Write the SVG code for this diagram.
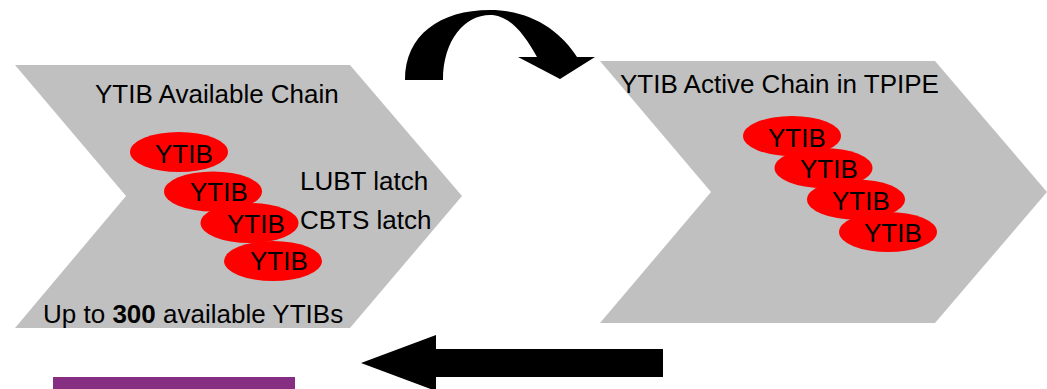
<svg xmlns="http://www.w3.org/2000/svg" width="1047" height="389" viewBox="0 0 1047 389">
<style>
.chev{fill:#C0C0C0}
.oval{fill:#FF0000}
.t{font-family:"Liberation Sans",Arial,sans-serif;font-size:26px;fill:#000}
.arr{fill:#000}
</style>
<rect width="1047" height="389" fill="#fff"/>
<g id="available-chain">
<polygon class="chev" points="15,65 350,65 462,196 350,328 15,328 126,196"/>
<text class="t" x="95" y="103">YTIB Available Chain</text>
<text class="t" x="300" y="190">LUBT latch</text>
<text class="t" x="300" y="229">CBTS latch</text>
<text class="t" x="43" y="323">Up to <tspan font-weight="bold">300</tspan> available YTIBs</text>
</g>
<g id="avail-ytib-1"><ellipse class="oval" cx="179" cy="152" rx="49" ry="20"/><text class="t" x="155" y="163">YTIB</text></g>
<g id="avail-ytib-2"><ellipse class="oval" cx="213" cy="191.5" rx="49" ry="20"/><text class="t" x="190" y="201">YTIB</text></g>
<g id="avail-ytib-3"><ellipse class="oval" cx="249.5" cy="223" rx="49" ry="20"/><text class="t" x="227" y="233">YTIB</text></g>
<g id="avail-ytib-4"><ellipse class="oval" cx="273" cy="261" rx="49" ry="20"/><text class="t" x="250" y="270">YTIB</text></g>
<g id="active-chain">
<polygon class="chev" points="600,61 935,61 1047,192 935,323 600,323 711,192"/>
<text class="t" x="620" y="93">YTIB Active Chain in TPIPE</text>
</g>
<g id="active-ytib-1"><ellipse class="oval" cx="792" cy="136" rx="49" ry="20"/><text class="t" x="768" y="147">YTIB</text></g>
<g id="active-ytib-2"><ellipse class="oval" cx="823.5" cy="168" rx="49" ry="20"/><text class="t" x="800" y="178">YTIB</text></g>
<g id="active-ytib-3"><ellipse class="oval" cx="856" cy="199.5" rx="49" ry="20"/><text class="t" x="832" y="210">YTIB</text></g>
<g id="active-ytib-4"><ellipse class="oval" cx="888" cy="232" rx="49" ry="20"/><text class="t" x="864" y="242">YTIB</text></g>
<g id="connectors">
<path class="arr" d="M405,80 C405,35 440,10 490,10 C530,10 560,30 577,57 L595,57 L560,79 L518,57 L537,57 C525,35 510,15 490,15 C465,15 443,40 443,80 Z"/>
<polygon class="arr" points="361,363 436,335 436,349 663,349 663,377 436,377 436,391"/>
</g>
<rect id="purple-bar" x="53" y="377" width="242" height="12" fill="#862F82"/>
</svg>
